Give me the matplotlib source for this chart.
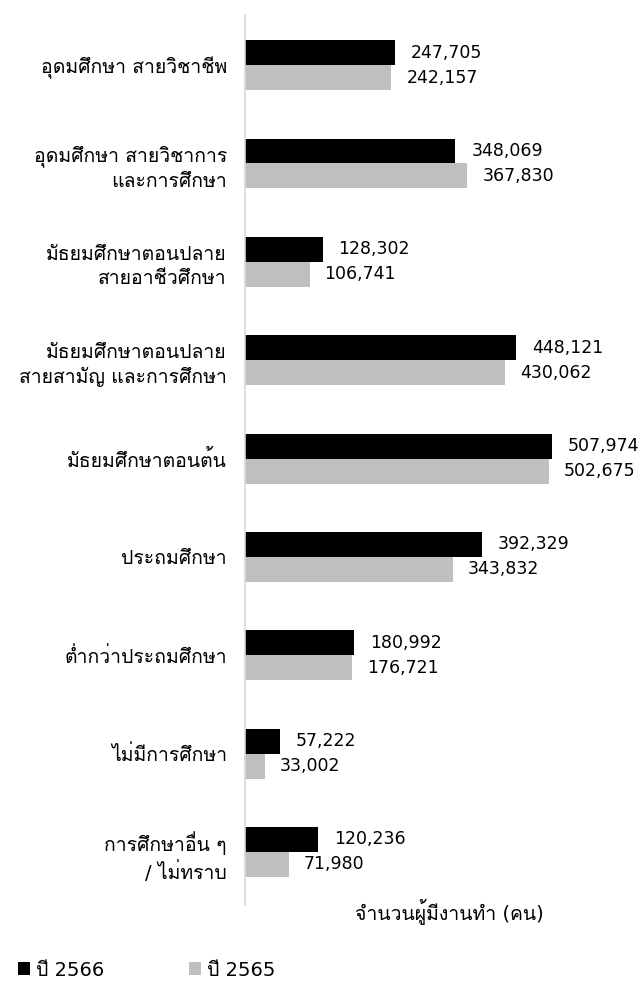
import matplotlib
matplotlib.use("Agg")
import matplotlib.pyplot as plt
from matplotlib import font_manager
from matplotlib.ft2font import FT2Font
import numpy as np

# data
categories = [
    "อุดมศึกษา สายวิชาชีพ",
    "อุดมศึกษา สายวิชาการ\nและการศึกษา",
    "มัธยมศึกษาตอนปลาย\nสายอาชีวศึกษา",
    "มัธยมศึกษาตอนปลาย\nสายสามัญ และการศึกษา",
    "มัธยมศึกษาตอนต้น",
    "ประถมศึกษา",
    "ต่ำกว่าประถมศึกษา",
    "ไม่มีการศึกษา",
    "การศึกษาอื่น ๆ\n/ ไม่ทราบ",
]
values_2566 = [247705, 348069, 128302, 448121, 507974, 392329, 180992, 57222, 120236]
values_2565 = [242157, 367830, 106741, 430062, 502675, 343832, 176721, 33002, 71980]
series_names = ["ปี 2566", "ปี 2565"]
axis_title = "จำนวนผู้มีงานทำ (คน)"


# find an installed font with thai glyphs
def find_thai_font():
    for f in font_manager.fontManager.ttflist:
        try:
            ft = FT2Font(f.fname)
            cmap = ft.get_charmap()
        except Exception:
            continue
        if 0x0E01 in cmap and 0x0E32 in cmap:
            return f.name
    return None


thai = find_thai_font()
families = ["DejaVu Sans"] + ([thai] if thai else [])
plt.rcParams["font.family"] = families

fig = plt.figure(figsize=(6.4, 9.82), dpi=100)
ax = fig.add_axes([245 / 640, 1 - 905 / 982, 355 / 640, 890 / 982])

y = np.arange(len(categories))
h = 0.254
ax.barh(y - h / 2, values_2566, height=h, color="black", label=series_names[0])
ax.barh(y + h / 2, values_2565, height=h, color="#bfbfbf", label=series_names[1])

for i in range(len(categories)):
    ax.annotate(f"{values_2566[i]:,}", (values_2566[i], y[i] - h / 2),
                xytext=(16, 0), textcoords="offset pixels",
                va="center", ha="left", fontsize=12.5)
    ax.annotate(f"{values_2565[i]:,}", (values_2565[i], y[i] + h / 2),
                xytext=(15, 0), textcoords="offset pixels",
                va="center", ha="left", fontsize=12.5)

ax.set_xlim(0, 355 / (307 / 507974))
ax.set_ylim(8.54, -0.51)
ax.set_yticks(y)
ax.set_yticklabels(categories, fontsize=14, ha="right", linespacing=1.35)
ax.tick_params(axis="y", length=0, pad=13)
ax.set_xticks([])
for s in ["top", "right", "bottom"]:
    ax.spines[s].set_visible(False)
ax.spines["left"].set_color("#d9d9d9")
ax.spines["left"].set_linewidth(1.2)

fig.text(355 / 640, 1 - 912 / 982, axis_title, fontsize=14, ha="left", va="center")

fig.legend(loc="center left", bbox_to_anchor=(18 / 640, 1 - 970 / 982), ncol=2,
           frameon=False, fontsize=14, handlelength=0.6, handleheight=0.6,
           handletextpad=0.3, columnspacing=4.4, borderaxespad=0, borderpad=0)

fig.savefig("out.png", dpi=100)
